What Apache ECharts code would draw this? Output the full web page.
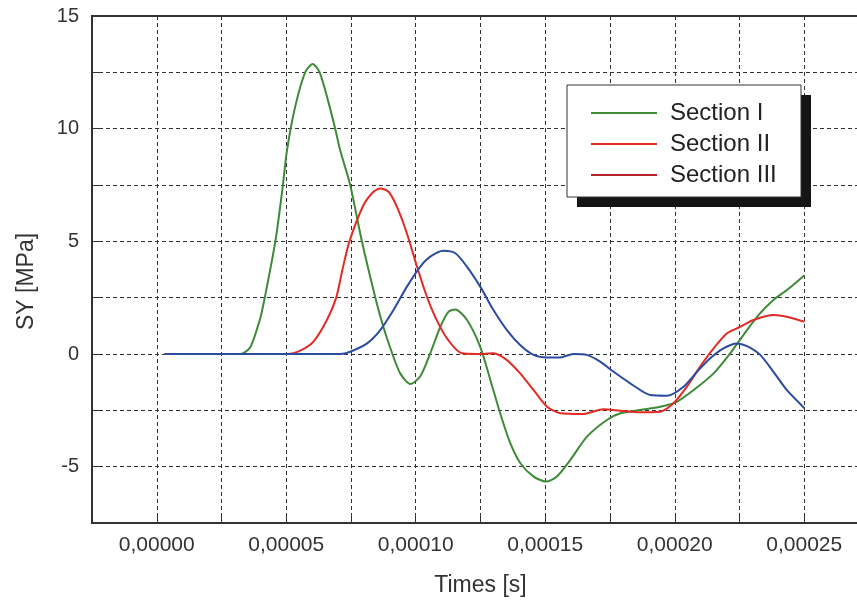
<!DOCTYPE html>
<html>
<head>
<meta charset="utf-8">
<script src="https://cdn.jsdelivr.net/npm/echarts@6/dist/echarts.min.js"></script>
<style>
  html, body { margin: 0; padding: 0; background: #fff; overflow: hidden; }
  /* the plot runs on past the right edge of the window, as in the original */
  #chart { width: 880px; height: 602px; }
</style>
</head>
<body>
<div id="chart"></div>
<script>
// Section I (green)
var timeSec1 = [0.3e-5, 3.22e-5, 3.61e-5, 4.00e-5, 4.17e-5, 4.58e-5, 4.85e-5, 5.03e-5, 5.35e-5, 5.73e-5,
  6.02e-5, 6.29e-5, 6.60e-5, 6.89e-5, 7.08e-5, 7.47e-5, 7.92e-5, 8.44e-5, 8.75e-5, 9.10e-5, 9.40e-5,
  9.79e-5, 10.17e-5, 10.56e-5, 10.95e-5, 11.27e-5, 11.53e-5, 11.98e-5, 12.49e-5, 12.88e-5, 13.26e-5,
  13.65e-5, 14.04e-5, 14.55e-5, 15.03e-5, 15.45e-5, 15.97e-5, 16.61e-5, 17.38e-5, 17.90e-5, 18.67e-5,
  19.44e-5, 20.08e-5, 20.73e-5, 21.50e-5, 22.14e-5, 22.79e-5, 23.30e-5, 23.81e-5, 24.33e-5, 25.01e-5];
var sy1 = [0, 0, 0.3, 1.6, 2.5, 5.0, 7.3, 9.05, 11.0, 12.5,
  12.87, 12.5, 11.3, 10.0, 9.05, 7.5, 5.0, 2.5, 1.2, 0, -0.86,
  -1.33, -1.0, 0.03, 1.21, 1.88, 1.98, 1.51, 0.32, -1.15, -2.63,
  -3.96, -4.85, -5.44, -5.66, -5.44, -4.70, -3.67, -2.93, -2.63, -2.48,
  -2.34, -2.12, -1.60, -0.86, 0.03, 1.06, 1.81, 2.40, 2.84, 3.50];

// Section II (red)
var timeSec2 = [0.3e-5, 5.03e-5, 5.54e-5, 6.05e-5, 6.57e-5, 6.93e-5, 7.18e-5, 7.44e-5, 7.98e-5, 8.37e-5,
  8.63e-5, 8.95e-5, 9.27e-5, 9.66e-5, 10.05e-5, 10.43e-5, 10.75e-5, 11.20e-5, 11.78e-5, 12.36e-5,
  13.00e-5, 13.52e-5, 14.03e-5, 14.55e-5, 15.07e-5, 15.58e-5, 16.48e-5, 17.25e-5, 17.90e-5, 18.67e-5,
  19.44e-5, 19.95e-5, 20.47e-5, 20.98e-5, 21.50e-5, 22.02e-5, 22.53e-5, 23.04e-5, 23.81e-5, 24.33e-5,
  25.01e-5];
var sy2 = [0, 0, 0.15, 0.55, 1.51, 2.5, 3.8, 5.0, 6.6, 7.2,
  7.35, 7.20, 6.54, 5.35, 3.87, 2.54, 1.65, 0.70, 0.03, 0,
  0.03, -0.27, -0.86, -1.60, -2.34, -2.63, -2.66, -2.45, -2.52, -2.59,
  -2.56, -2.19, -1.45, -0.56, 0.25, 0.92, 1.21, 1.51, 1.73, 1.65,
  1.43];

// Section III (blue)
var timeSec3 = [0.3e-5, 7.08e-5, 7.47e-5, 8.12e-5, 8.63e-5, 9.14e-5, 9.66e-5, 10.17e-5, 10.56e-5, 11.07e-5,
  11.53e-5, 11.98e-5, 12.49e-5, 13.00e-5, 13.52e-5, 14.03e-5, 14.55e-5, 15.07e-5, 15.58e-5, 16.09e-5,
  16.61e-5, 17.12e-5, 17.64e-5, 18.28e-5, 19.05e-5, 19.70e-5, 20.34e-5, 20.86e-5, 21.37e-5, 21.88e-5,
  22.40e-5, 22.79e-5, 23.30e-5, 23.81e-5, 24.33e-5, 25.01e-5];
var sy3 = [0, 0, 0.10, 0.47, 1.06, 1.95, 2.99, 3.87, 4.32, 4.58,
  4.47, 3.87, 2.99, 1.95, 1.06, 0.40, -0.04, -0.16, -0.15, 0,
  -0.04, -0.34, -0.79, -1.30, -1.82, -1.85, -1.45, -0.79, -0.19, 0.25,
  0.47, 0.35, -0.04, -0.79, -1.60, -2.41];

var seriesNames = ['Section I', 'Section II', 'Section III'];

function pairs(xs, ys) {
  return xs.map(function (x, i) { return [x, ys[i]]; });
}

var chart = echarts.init(document.getElementById('chart'));
var gridLine = { show: true, lineStyle: { color: '#333', type: [4, 3], width: 1 } };

chart.setOption({
  animation: false,
  textStyle: { fontFamily: 'Liberation Sans, Arial, sans-serif' },
  grid: {
    left: 92, top: 16, right: 11, bottom: 79,
    show: true, borderColor: '#333', borderWidth: 2, backgroundColor: 'transparent'
  },
  // legend frame with its hard black drop shadow
  graphic: [
    { type: 'rect', z: 50, shape: { x: 577, y: 95, width: 234, height: 112 },
      style: { fill: '#151515' } },
    { type: 'rect', z: 51, shape: { x: 567, y: 85, width: 234, height: 112 },
      style: { fill: '#fff', stroke: '#333', lineWidth: 1 } }
  ],
  legend: {
    z: 60,
    orient: 'vertical',
    left: 591, top: 100,
    padding: 0,
    icon: 'rect',
    data: [
      { name: 'Section I' },
      { name: 'Section II' },
      { name: 'Section III', itemStyle: { color: '#b5252b' } }
    ],
    itemWidth: 66, itemHeight: 2, itemGap: 5,
    textStyle: { fontSize: 24, lineHeight: 26, color: '#222', padding: [0, 0, 0, 8] }
  },
  xAxis: {
    type: 'value',
    min: -0.000025, max: 0.000275, interval: 0.000025,
    name: 'Times [s]', nameLocation: 'middle', nameGap: 51,
    nameTextStyle: { fontSize: 23, color: '#333' },
    axisLine: { onZero: false, lineStyle: { color: '#333', width: 2 } },
    axisTick: { inside: true, length: 8, lineStyle: { color: '#333' } },
    axisLabel: {
      fontSize: 21, color: '#333', margin: 12,
      formatter: function (v) {
        var k = Math.round(v / 0.000025);
        if (k % 2 !== 0 || k < 0 || k > 10) return '';
        return (k * 0.000025).toFixed(5).replace('.', ',');
      }
    },
    splitLine: gridLine
  },
  yAxis: {
    type: 'value',
    min: -7.5, max: 15, interval: 2.5,
    name: 'SY [MPa]', nameLocation: 'middle', nameGap: 54,
    nameTextStyle: { fontSize: 23, color: '#333', padding: [0, 24, 0, 0] },
    axisLine: { show: true, onZero: false, lineStyle: { color: '#333', width: 2 } },
    axisTick: { show: true, inside: true, length: 10, lineStyle: { color: '#333' } },
    axisLabel: {
      fontSize: 20, color: '#333', margin: 13,
      formatter: function (v) {
        var k = Math.round(v / 2.5);
        return k % 2 === 0 ? String(k * 2.5) : '';
      }
    },
    splitLine: gridLine
  },
  series: [
    { name: seriesNames[0], type: 'line', data: pairs(timeSec1, sy1), smooth: 0.25,
      symbol: 'none', color: '#3d8b37', lineStyle: { width: 2 } },
    { name: seriesNames[1], type: 'line', data: pairs(timeSec2, sy2), smooth: 0.25,
      symbol: 'none', color: '#e32a24', lineStyle: { width: 2 } },
    { name: seriesNames[2], type: 'line', data: pairs(timeSec3, sy3), smooth: 0.25,
      symbol: 'none', color: '#2b4ba0', lineStyle: { width: 2 } }
  ]
});
</script>
</body>
</html>
